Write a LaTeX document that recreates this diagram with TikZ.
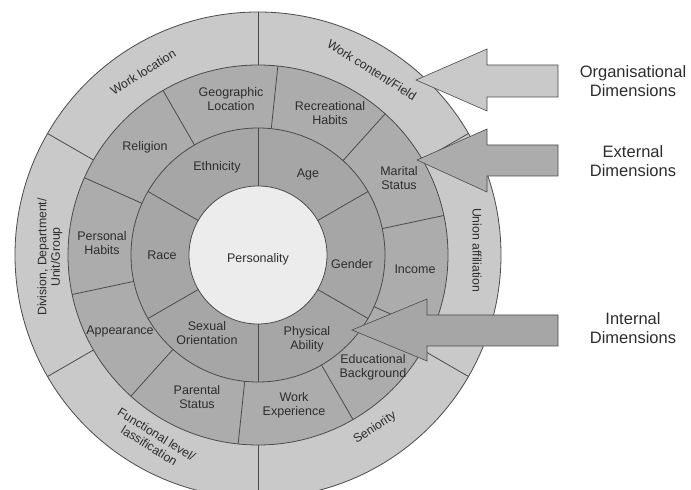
\documentclass[tikz,border=0pt]{standalone}
\usepackage{fontspec}
\setmainfont{Liberation Sans}
\usetikzlibrary{calc}
\definecolor{outerc}{RGB}{201,201,201}
\definecolor{midc}{RGB}{172,172,172}
\definecolor{innc}{RGB}{166,166,166}
\definecolor{centc}{RGB}{236,236,236}
\definecolor{linec}{RGB}{75,75,75}
\definecolor{txtc}{RGB}{45,45,45}
\begin{document}
\begin{tikzpicture}[x=1pt,y=1pt,
  ringline/.style={draw=linec, line width=0.8pt},
  lbl/.style={font=\fontsize{12.5}{14}\selectfont, text=txtc, align=center, inner sep=0pt},
  olbl/.style={font=\fontsize{12.3}{13.5}\selectfont, text=txtc, align=center, inner sep=0pt},
  dimlbl/.style={font=\fontsize{16.5}{18.5}\selectfont, text=txtc, align=center, inner sep=0pt},
  blockarrow/.style={draw=linec, line width=0.6pt}
]
\useasboundingbox (0,0) rectangle (691,490);
\clip (0,0) rectangle (691,490);
\fill[white] (0,0) rectangle (691,490);
\coordinate (C) at (258,235);
% rings
\fill[outerc] (C) circle (243);
\fill[midc] (C) circle (190);
\fill[innc] (C) circle (127);
\fill[centc] (C) circle (69);
% dividers
\foreach \a in {30,90,...,330} \draw[ringline] ($(C)+(\a:190)$) -- ($(C)+(\a:243)$);
\foreach \a in {84,48,...,-240} \draw[ringline] ($(C)+(\a:127)$) -- ($(C)+(\a:190)$);
\foreach \a in {30,90,...,330} \draw[ringline] ($(C)+(\a:69)$) -- ($(C)+(\a:127)$);
\foreach \r in {243,190,127,69} \draw[ringline] (C) circle (\r);
% outer ring labels
\node[olbl, rotate=32] (wloc) at (143,418) {Work location};
\node[olbl, rotate=-32] (wcont) at (372,420) {Work content/Field};
\node[olbl, rotate=-90] (union) at (477,240) {Union affiliation};
\node[olbl, rotate=90] (div) at (50,233) {Division, Department/\\Unit/Group};
\node[olbl, rotate=-32] (func) at (153,50) {Functional level/\\lassification};
\node[olbl, rotate=33] (sen) at (375,62) {Seniority};
% middle ring labels
\node[lbl] (geo) at (231,391) {Geographic\\Location};
\node[lbl] (rec) at (330,377) {Recreational\\Habits};
\node[lbl] (mar) at (399,312) {Marital\\Status};
\node[lbl] (inc) at (415,221) {Income};
\node[lbl] (edu) at (373,123) {Educational\\Background};
\node[lbl] (wexp) at (294,85) {Work\\Experience};
\node[lbl] (par) at (197,93) {Parental\\Status};
\node[lbl] (app) at (120,159) {Appearance};
\node[lbl] (phab) at (102,247) {Personal\\Habits};
\node[lbl] (rel) at (145,343) {Religion};
% inner ring labels
\node[lbl] (eth) at (217,323) {Ethnicity};
\node[lbl] (age) at (308,315) {Age};
\node[lbl] (gen) at (352,226) {Gender};
\node[lbl] (phy) at (307,151) {Physical\\Ability};
\node[lbl] (sex) at (207,157) {Sexual\\Orientation};
\node[lbl] (race) at (162,235) {Race};
\node[lbl] (pers) at (258,231) {Personality};
% block arrows
\draw[blockarrow, fill=outerc] (558,425) -- (487,425) -- (487,441) -- (416,410) -- (487,379) -- (487,393) -- (558,393) -- cycle;
\draw[blockarrow, fill=midc] (558,345) -- (487,345) -- (487,361) -- (417,330) -- (487,298) -- (487,314) -- (558,314) -- cycle;
\draw[blockarrow, fill=innc] (558,175) -- (427,175) -- (427,191) -- (352,160) -- (427,129) -- (427,144) -- (558,144) -- cycle;
% dimension labels
\node[dimlbl] (org) at (633,409) {Organisational\\Dimensions};
\node[dimlbl] (ext) at (633,329) {External\\Dimensions};
\node[dimlbl] (int) at (633,162) {Internal\\Dimensions};
\end{tikzpicture}
\end{document}
